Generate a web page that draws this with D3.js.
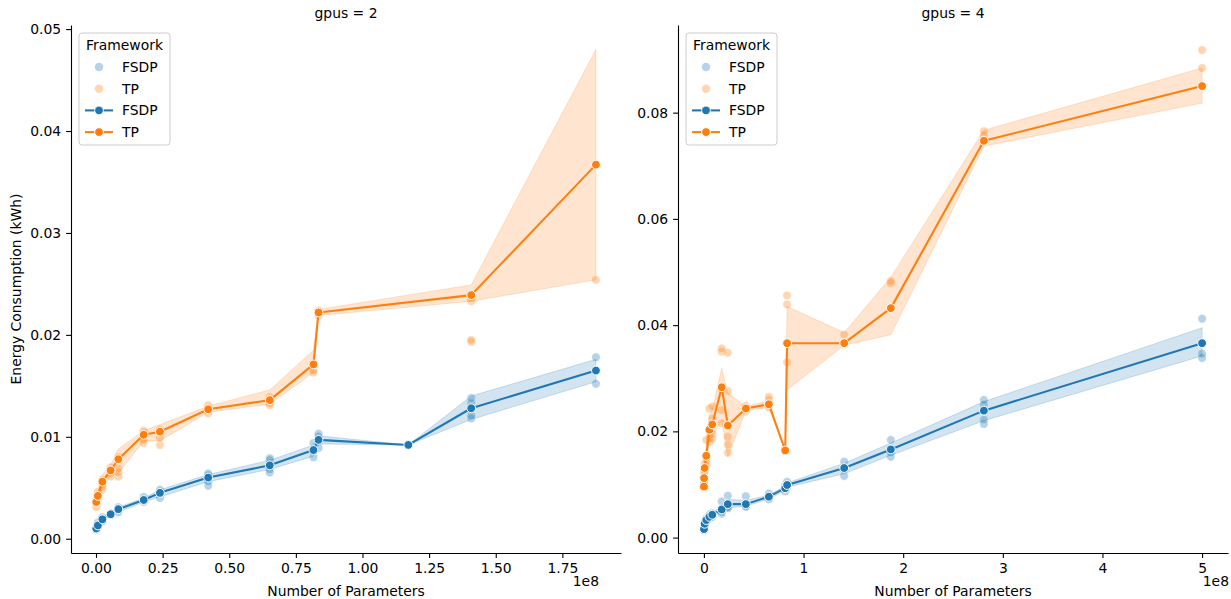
<!DOCTYPE html>
<html>
<head>
<meta charset="utf-8">
<script src="https://cdn.jsdelivr.net/npm/d3@7"></script>
<style>
  body { margin: 0; background: #fff; }
  svg { display: block; }
  text { font-family: "DejaVu Sans", sans-serif; }
</style>
</head>
<body>
<div id="viz"></div>
<script>
// number of parameters is in units of 1e8, energy in kWh

// gpus = 2
const fsdp2X = [0.001, 0.007, 0.024, 0.055, 0.084, 0.179, 0.240, 0.421, 0.652, 0.816, 0.835, 1.172, 1.408, 1.876]
const fsdp2Mean = [0.0010, 0.0013, 0.0019, 0.0024, 0.0029, 0.0038, 0.0045, 0.0060, 0.0072, 0.0087, 0.0097, 0.0092, 0.0128, 0.0165]
const fsdp2Lo = [0.0008, 0.0011, 0.0017, 0.0023, 0.0026, 0.0036, 0.0041, 0.0056, 0.0068, 0.0081, 0.0093, 0.0092, 0.0117, 0.0154]
const fsdp2Hi = [0.0012, 0.0016, 0.0021, 0.0026, 0.0031, 0.0040, 0.0048, 0.0063, 0.0077, 0.0092, 0.0101, 0.0092, 0.0140, 0.0176]
const fsdp2Runs = [[0.0009, 0.0011], [0.0011, 0.0013, 0.0016], [0.0017, 0.0019, 0.0021], [0.0024, 0.0025],
  [0.0026, 0.0029, 0.0031], [0.0036, 0.0038, 0.0041], [0.0040, 0.0046, 0.0048], [0.0052, 0.0056, 0.0062, 0.0064],
  [0.0065, 0.0068, 0.0077, 0.0079], [0.0080, 0.0086, 0.0094], [0.0089, 0.0095, 0.0100, 0.0103], [0.0092],
  [0.0118, 0.0121, 0.0133, 0.0138], [0.0152, 0.0178]]

const tp2X = [0.001, 0.007, 0.024, 0.055, 0.084, 0.179, 0.240, 0.421, 0.652, 0.816, 0.835, 1.408, 1.876]
const tp2Mean = [0.0036, 0.0042, 0.0056, 0.0067, 0.0078, 0.0102, 0.0105, 0.0127, 0.0136, 0.0171, 0.0222, 0.0239, 0.0367]
const tp2Lo = [0.0032, 0.0038, 0.0049, 0.0062, 0.0064, 0.0096, 0.0096, 0.0124, 0.0132, 0.0163, 0.0219, 0.0233, 0.0254]
const tp2Hi = [0.0040, 0.0046, 0.0063, 0.0072, 0.0088, 0.0106, 0.0112, 0.0130, 0.0146, 0.0185, 0.0225, 0.0249, 0.0480]
const tp2Runs = [[0.0031, 0.0035, 0.0038], [0.0038, 0.0042, 0.0046], [0.0048, 0.0051, 0.0054, 0.0058],
  [0.0061, 0.0064, 0.0067, 0.0070], [0.0061, 0.0065, 0.0069, 0.0080], [0.0094, 0.0097, 0.0104, 0.0106],
  [0.0092, 0.0099, 0.0104, 0.0107], [0.0123, 0.0126, 0.0128, 0.0131], [0.0131, 0.0133, 0.0136, 0.0139],
  [0.0163, 0.0165, 0.0172], [0.0219, 0.0222, 0.0224], [0.0193, 0.0195, 0.0233, 0.0236, 0.0240], [0.0254]]

// gpus = 4
const fsdp4X = [0.001, 0.007, 0.024, 0.055, 0.084, 0.179, 0.240, 0.421, 0.652, 0.816, 0.835, 1.408, 1.876, 2.81, 5.00]
const fsdp4Mean = [0.0016, 0.0026, 0.0033, 0.0039, 0.0043, 0.0053, 0.0063, 0.0063, 0.0077, 0.0093, 0.0099, 0.0131, 0.0166, 0.0239, 0.0366]
const fsdp4Lo = [0.0014, 0.0023, 0.0031, 0.0037, 0.0040, 0.0047, 0.0056, 0.0059, 0.0073, 0.0088, 0.0095, 0.0120, 0.0155, 0.0220, 0.0342]
const fsdp4Hi = [0.0017, 0.0029, 0.0035, 0.0042, 0.0045, 0.0062, 0.0072, 0.0070, 0.0080, 0.0097, 0.0103, 0.0140, 0.0178, 0.0256, 0.0395]
const fsdp4Runs = [[0.0014, 0.0016, 0.0017], [0.0022, 0.0026, 0.0030], [0.0030, 0.0033, 0.0036], [0.0036, 0.0040, 0.0043],
  [0.0039, 0.0043, 0.0046], [0.0045, 0.0048, 0.0052, 0.0068], [0.0055, 0.0056, 0.0058, 0.0079],
  [0.0058, 0.0059, 0.0062, 0.0078], [0.0072, 0.0074, 0.0077, 0.0083], [0.0087, 0.0091, 0.0098],
  [0.0094, 0.0098, 0.0105], [0.0116, 0.0128, 0.0143], [0.0152, 0.0160, 0.0184], [0.0214, 0.0222, 0.0250, 0.0259],
  [0.0338, 0.0346, 0.0412]]

const tp4X = [0.0003, 0.002, 0.007, 0.024, 0.055, 0.084, 0.179, 0.240, 0.421, 0.652, 0.816, 0.835, 1.408, 1.876, 2.81, 5.00]
const tp4Mean = [0.0096, 0.0112, 0.0131, 0.0154, 0.0203, 0.0213, 0.0283, 0.0211, 0.0243, 0.0251, 0.0164, 0.0366, 0.0366, 0.0432, 0.0747, 0.0850]
const tp4Lo = [0.0093, 0.0104, 0.0126, 0.0140, 0.0185, 0.0190, 0.0221, 0.0152, 0.0239, 0.0245, 0.0164, 0.0278, 0.0362, 0.0382, 0.0737, 0.0818]
const tp4Hi = [0.0100, 0.0120, 0.0137, 0.0175, 0.0230, 0.0240, 0.0319, 0.0272, 0.0247, 0.0258, 0.0164, 0.0435, 0.0386, 0.0490, 0.0767, 0.0884]
const tp4Runs = [[0.0093, 0.0096, 0.0100], [0.0103, 0.0112, 0.0121], [0.0125, 0.0131, 0.0138], [0.0135, 0.0143, 0.0150, 0.0184],
  [0.0180, 0.0187, 0.0200, 0.0243], [0.0186, 0.0195, 0.0224, 0.0247], [0.0215, 0.0240, 0.0280, 0.0350, 0.0356],
  [0.0160, 0.0175, 0.0190, 0.0276, 0.0348], [0.0238, 0.0243, 0.0248], [0.0245, 0.0250, 0.0259, 0.0265], [0.0164],
  [0.0330, 0.0439, 0.0456], [0.0366, 0.0382], [0.0479, 0.0483], [0.0757, 0.0765], [0.0884, 0.0918]]

const xTicks2 = [0, 0.25, 0.5, 0.75, 1.0, 1.25, 1.5, 1.75]
const yTicks2 = [0, 0.01, 0.02, 0.03, 0.04, 0.05]
const xTicks4 = [0, 1, 2, 3, 4, 5]
const yTicks4 = [0, 0.02, 0.04, 0.06, 0.08]
const frameworks = ["FSDP", "TP"]

const W = 1231, H = 599
const fs = 13.9
const colors = {FSDP: "#1f77b4", TP: "#ff7f0e"}
const plotTop = 25, plotBottom = 553

const svg = d3.select("#viz").append("svg").attr("width", W).attr("height", H)

const makeSeries = (name, xs, mean, lo, hi, runs) => ({
  name,
  pts: xs.map((x, i) => ({x, y: mean[i], lo: lo[i], hi: hi[i], runs: runs[i]}))
})

const panels = [
  {
    title: "gpus = 2", left: 71, right: 621, offsetX: 599,
    xDomain: [-0.0938, 1.970], yDomain: [-0.0014, 0.0504],
    xTicks: xTicks2, yTicks: yTicks2, xFmt: d3.format(".2f"), yFmt: d3.format(".2f"),
    series: [makeSeries("FSDP", fsdp2X, fsdp2Mean, fsdp2Lo, fsdp2Hi, fsdp2Runs),
             makeSeries("TP", tp2X, tp2Mean, tp2Lo, tp2Hi, tp2Runs)],
    ylabel: true
  },
  {
    title: "gpus = 4", left: 678, right: 1228, offsetX: 1229,
    xDomain: [-0.26, 5.26], yDomain: [-0.0029, 0.0965],
    xTicks: xTicks4, yTicks: yTicks4, xFmt: d3.format("d"), yFmt: d3.format(".2f"),
    series: [makeSeries("FSDP", fsdp4X, fsdp4Mean, fsdp4Lo, fsdp4Hi, fsdp4Runs),
             makeSeries("TP", tp4X, tp4Mean, tp4Lo, tp4Hi, tp4Runs)],
    ylabel: false
  }
]

panels.forEach(p => {
  const x = d3.scaleLinear().domain(p.xDomain).range([p.left, p.right])
  const y = d3.scaleLinear().domain(p.yDomain).range([plotBottom, plotTop])
  const g = svg.append("g")

  // raw runs (scatter)
  p.series.forEach(s => {
    const raw = s.pts.flatMap(d => d.runs.map(v => ({x: d.x, y: v})))
    g.append("g").selectAll("circle")
      .data(raw)
      .enter()
      .append("circle")
      .attr("cx", d => x(d.x))
      .attr("cy", d => y(d.y))
      .attr("r", 4.2)
      .attr("fill", colors[s.name])
      .attr("fill-opacity", 0.32)
      .attr("stroke", "white")
      .attr("stroke-opacity", 0.32)
      .attr("stroke-width", 0.9)
  })

  // confidence bands
  const area = d3.area().x(d => x(d.x)).y0(d => y(d.lo)).y1(d => y(d.hi))
  p.series.forEach(s => {
    g.append("path")
      .attr("d", area(s.pts))
      .attr("fill", colors[s.name])
      .attr("fill-opacity", 0.2)
      .attr("stroke", colors[s.name])
      .attr("stroke-opacity", 0.2)
      .attr("stroke-width", 1)
  })

  // mean lines with markers
  const line = d3.line().x(d => x(d.x)).y(d => y(d.y))
  p.series.forEach(s => {
    g.append("path")
      .attr("d", line(s.pts))
      .attr("fill", "none")
      .attr("stroke", colors[s.name])
      .attr("stroke-width", 2.08)
      .attr("stroke-linejoin", "round")
    g.append("g").selectAll("circle")
      .data(s.pts)
      .enter()
      .append("circle")
      .attr("cx", d => x(d.x))
      .attr("cy", d => y(d.y))
      .attr("r", 4.4)
      .attr("fill", colors[s.name])
      .attr("stroke", "white")
      .attr("stroke-width", 1)
  })

  // axes
  const xAxis = d3.axisBottom(x).tickValues(p.xTicks).tickFormat(p.xFmt)
    .tickSizeOuter(0).tickSizeInner(4.9).tickPadding(4.9)
  const yAxis = d3.axisLeft(y).tickValues(p.yTicks).tickFormat(p.yFmt)
    .tickSizeOuter(0).tickSizeInner(4.9).tickPadding(4.9)

  const gx = svg.append("g").attr("transform", `translate(0,${plotBottom})`).call(xAxis)
  const gy = svg.append("g").attr("transform", `translate(${p.left},0)`).call(yAxis)
  ;[gx, gy].forEach(a => {
    a.selectAll("path, line").attr("stroke", "#000").attr("stroke-width", 1.1)
    a.selectAll("text").attr("fill", "#000").style("font-size", fs + "px").style("font-family", "DejaVu Sans")
  })

  // offset text
  svg.append("text")
    .attr("x", p.offsetX)
    .attr("y", 586)
    .attr("text-anchor", "end")
    .style("font-size", fs + "px")
    .text("1e8")

  svg.append("text")
    .attr("x", (p.left + p.right) / 2)
    .attr("y", 596)
    .attr("text-anchor", "middle")
    .style("font-size", fs + "px")
    .text("Number of Parameters")

  svg.append("text")
    .attr("x", (p.left + p.right) / 2)
    .attr("y", 18)
    .attr("text-anchor", "middle")
    .style("font-size", fs + "px")
    .text(p.title)

  if (p.ylabel) {
    svg.append("text")
      .attr("transform", `translate(21,${(plotTop + plotBottom) / 2}) rotate(-90)`)
      .attr("text-anchor", "middle")
      .style("font-size", fs + "px")
      .text("Energy Consumption (kWh)")
  }

  // legend
  const lx = p.left + 8, ly = 33
  const lg = svg.append("g")
  lg.append("rect")
    .attr("x", lx).attr("y", ly)
    .attr("width", 91).attr("height", 112)
    .attr("rx", 3)
    .attr("fill", "white").attr("fill-opacity", 0.8)
    .attr("stroke", "#cccccc").attr("stroke-width", 1)
  lg.append("text")
    .attr("x", lx + 45.5).attr("y", ly + 17)
    .attr("text-anchor", "middle")
    .style("font-size", fs + "px")
    .text("Framework")

  const entries = [
    ...frameworks.map(f => ({name: f, kind: "scatter"})),
    ...frameworks.map(f => ({name: f, kind: "line"}))
  ]
  entries.forEach((e, i) => {
    const cy = ly + 34 + i * 21.7
    const cx = lx + 20
    if (e.kind === "scatter") {
      lg.append("circle")
        .attr("cx", cx).attr("cy", cy).attr("r", 4.2)
        .attr("fill", colors[e.name]).attr("fill-opacity", 0.32)
    } else {
      lg.append("line")
        .attr("x1", cx - 14).attr("x2", cx + 14)
        .attr("y1", cy).attr("y2", cy)
        .attr("stroke", colors[e.name]).attr("stroke-width", 2.08)
      lg.append("circle")
        .attr("cx", cx).attr("cy", cy).attr("r", 4.4)
        .attr("fill", colors[e.name]).attr("stroke", "white").attr("stroke-width", 1)
    }
    lg.append("text")
      .attr("x", lx + 43).attr("y", cy + 5)
      .style("font-size", fs + "px")
      .text(e.name)
  })
})
</script>
</body>
</html>
